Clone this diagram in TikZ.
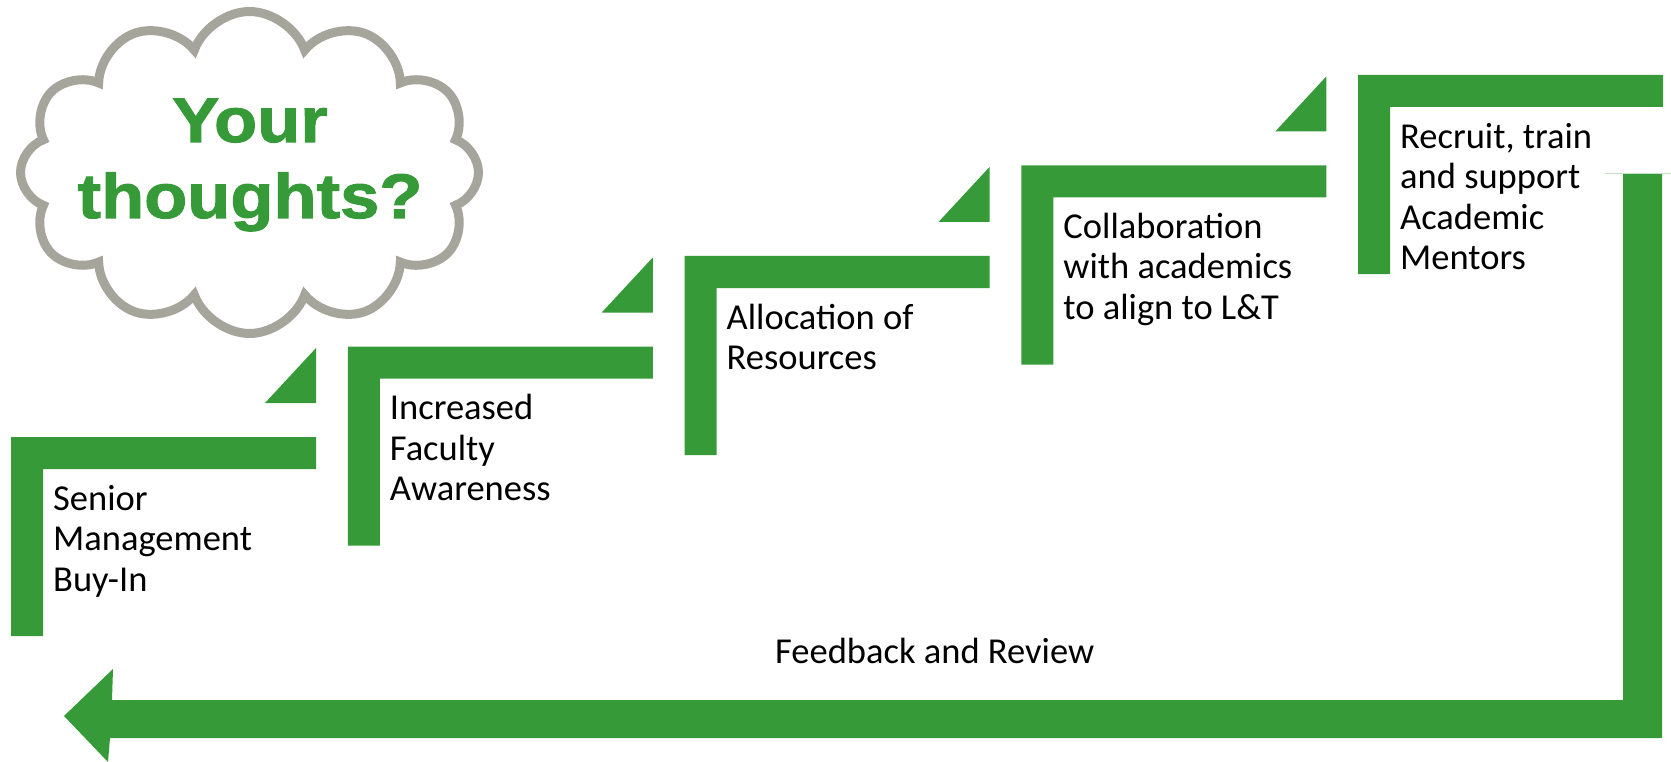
\documentclass[tikz,border=0pt]{standalone}
\usepackage{fontspec}
\setmainfont{Carlito}
\newfontfamily\cloudfont[FakeStretch=1.12, BoldFeatures={FakeBold=1.6}]{Liberation Sans}
\usetikzlibrary{shapes, positioning}
\definecolor{stepgreen}{RGB}{53,154,55}
\definecolor{cloudgrey}{RGB}{166,165,155}

\begin{document}
\begin{tikzpicture}[
    x=1pt, y=-1pt,
    stepfill/.style={fill=stepgreen},
    steplabel/.style={anchor=base west, inner sep=0pt, align=left,
      font=\fontsize{36.5}{40.5}\selectfont},
    thoughts/.style={cloud, cloud puffs=12, cloud puff arc=140, aspect=1.4,
      draw=cloudgrey, line width=9pt, fill=white, minimum width=458pt,
      minimum height=322pt, inner sep=0pt}
  ]
  \useasboundingbox (0,0) rectangle (1671,762);

  % cloud
  \node[thoughts] (cloud) at (249.5,172.5) {};
  \node[anchor=base, align=center, inner sep=0pt, text=stepgreen,
    font=\cloudfont\bfseries\fontsize{63}{76}\selectfont] (ask) at (250,218) {Your\\thoughts?};

  % the steps (\n = lines of text, the node sits on its last baseline)
  \foreach \i/\n/\txt in {0/3/{Senior\\Management\\Buy-In},
                          1/3/{Increased\\Faculty\\Awareness},
                          2/2/{Allocation of\\Resources},
                          3/3/{Collaboration\\with academics\\to align to L\&T},
                          4/4/{Recruit, train\\and support\\Academic\\Mentors}} {
    \coordinate (c\i) at ({11+336.75*\i},{437-90.5*\i});
    \fill[stepfill] (c\i) -- ++(305,0) -- ++(0,32) -- ++(-273,0) -- ++(0,167) -- ++(-32,0) -- cycle;
    \node[steplabel] (s\i) at ([shift={(42,{73+40.5*(\n-1)})}]c\i) {\txt};
  }
  \foreach \i in {0,...,3}
    \fill[stepfill] ([shift={(254,-34)}]c\i) -- ++(51,0) -- ++(0,-55) -- cycle;

  % feedback loop
  \coordinate (top) at (1623,174);
  \coordinate (tip) at (64,716);
  \fill[stepfill] (top) -- (1662,174) -- (1662,738) -- (110,738) -- (108,762)
    -- (tip) -- (113,669) -- (112,700) -- (1623,700) -- cycle;
  \draw[stepgreen!30, line width=1pt] (1605,174) -- (1671,174);
  \node[steplabel] (feedback) at (775,663) {Feedback and Review};
\end{tikzpicture}
\end{document}
